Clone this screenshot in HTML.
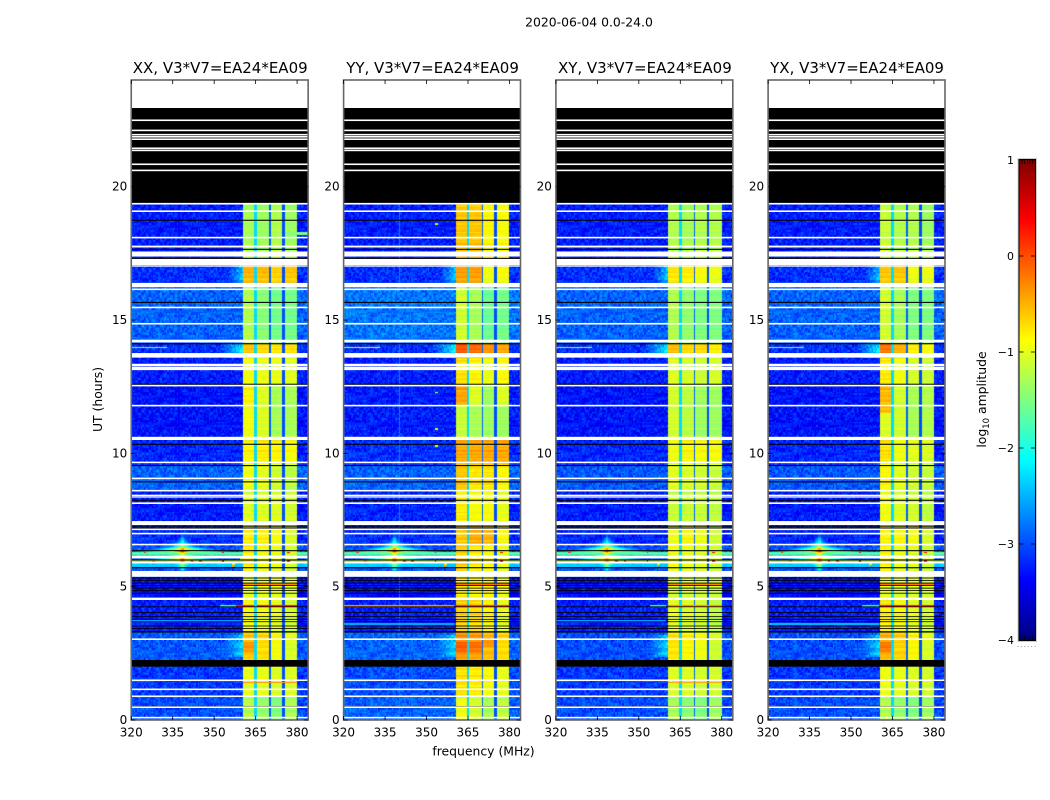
<!DOCTYPE html>
<html lang="en">
<head>
<meta charset="utf-8">
<title>2020-06-04 amplitude waterfall</title>
<style>
html,body{margin:0;padding:0;background:#fff;}
#figure{position:relative;width:1050px;height:800px;overflow:hidden;background:#fff;}
#figure canvas{position:absolute;display:block;}
#overlay{position:absolute;left:0;top:0;}
#overlay text{font-family:"DejaVu Sans","Liberation Sans",sans-serif;fill:#000;}
</style>
</head>
<body>
<div id="figure">
<canvas id="heat-0"></canvas>
<canvas id="heat-1"></canvas>
<canvas id="heat-2"></canvas>
<canvas id="heat-3"></canvas>
<svg id="overlay" width="1050" height="800" viewBox="0 0 1050 800" xmlns="http://www.w3.org/2000/svg">
<text x="589" y="26.5" font-size="12.4" text-anchor="middle">2020-06-04 0.0-24.0</text>
<text x="483.5" y="755.5" font-size="12.4" text-anchor="middle">frequency (MHz)</text>
<text transform="translate(102,399.5) rotate(-90)" font-size="12.4" text-anchor="middle">UT (hours)</text>
<text transform="translate(986,399.5) rotate(-90)" font-size="12.4" text-anchor="middle">log<tspan font-size="8.5" dy="3">10</tspan><tspan dy="-3"> amplitude</tspan></text>
</svg>
</div>
<script>
// ---------- chart data ----------
const panelTitles = ["XX, V3*V7=EA24*EA09","YY, V3*V7=EA24*EA09","XY, V3*V7=EA24*EA09","YX, V3*V7=EA24*EA09"];
const freqTicks = [320,335,350,365,380];
const hourTicks = [0,5,10,15,20];
const colorbarTicks = [1,0,-1,-2,-3,-4];
// sub-band frequency edges (MHz) and the divider channels between them
const subbands = [[360.5,364.7],[365.4,369.8],[370.4,374.7],[375.3,379.9]];
const dividers = [[364.7,365.4],[369.8,370.4],[374.7,375.3]];
const dividerLevels = [-2.3,-2.9,-3.0];
// time blocks (hours, top to bottom)
const timeBlocks = [[17.05,19.4],[16.39,17.05],[14.1,16.39],[13.59,14.1],[12.59,13.59],[10.5,12.59],[9.55,10.5],[8.6,9.55],[7.4,8.6],[6.58,7.4],[5.37,6.58],[4.55,5.37],[3.31,4.55],[2.25,3.31],[0.9,2.25],[0,0.9]];
// log10 amplitude per block: background, then four sub-bands
const levelsXX = [[-3.25,-1.3,-1.35,-1.25,-1.35],[-3.15,-.5,-.55,-.65,-.6],[-2.9,-1.25,-1.45,-1.55,-1.55],[-3.15,-.6,-.7,-.75,-.75],[-3.25,-.95,-1,-1,-1.05],[-3.3,-.95,-1.05,-1.3,-1.3],[-3.2,-.85,-.8,-.85,-.9],[-2.9,-.95,-1,-1.1,-1.2],[-3.25,-1.05,-1.05,-1.05,-1.1],[-3.15,-.8,-.8,-.9,-1.05],[-3,-.8,-.95,-1,-1.1],[-3.35,-1,-1,-1,-1.05],[-3.25,-.9,-.95,-1,-1.1],[-2.95,-.6,-.7,-.9,-1.05],[-3.1,-1,-1,-1.05,-1.05],[-3,-1.25,-1.4,-1.5,-1.3]];
const levelsYY = [[-3.25,-.6,-.6,-.85,-.9],[-3.15,-.4,-.4,-.95,-.9],[-2.8,-1.1,-1.3,-1.6,-1.55],[-3.15,-.05,-.15,-.35,-.45],[-3.25,-.75,-.85,-1,-.9],[-3.25,-.7,-1.05,-1.35,-1.05],[-3.15,-.45,-.45,-.45,-.45],[-2.9,-.6,-.75,-.75,-.85],[-3.2,-.8,-.9,-.9,-1],[-3.15,-.6,-.45,-.5,-.85],[-3,-.65,-.8,-.9,-1],[-3.35,-.8,-.85,-.85,-.95],[-3.25,-.65,-.7,-.85,-1],[-2.9,-.35,-.4,-.55,-.7],[-3,-.75,-.8,-.9,-1],[-2.9,-.95,-1.1,-1.3,-1.2]];
const levelsXY = [[-3.25,-1.25,-1.3,-1.25,-1.25],[-3.15,-.75,-.8,-.9,-.95],[-2.9,-1.25,-1.4,-1.5,-1.5],[-3.15,-.55,-.7,-.7,-.8],[-3.25,-1.05,-1.1,-1.15,-1.1],[-3.3,-1.1,-1.2,-1.35,-1.35],[-3.2,-.95,-.85,-.9,-.9],[-2.95,-1,-1.05,-1.1,-1.15],[-3.25,-1.15,-1.15,-1.15,-1.2],[-3.2,-.95,-.85,-.95,-1.1],[-3,-.95,-1,-1.05,-1.15],[-3.35,-1.1,-1.1,-1.1,-1.15],[-3.25,-1,-1.05,-1.1,-1.2],[-3,-.75,-.85,-.95,-1.1],[-3.1,-1.05,-1.05,-1.1,-1.1],[-3,-1.3,-1.45,-1.5,-1.35]];
const levelsYX = [[-3.25,-1.15,-1.25,-1.25,-1.35],[-3.15,-.6,-.6,-.95,-.95],[-2.9,-1.1,-1.3,-1.5,-1.5],[-3.15,-.2,-.5,-.8,-.9],[-3.25,-.8,-.95,-1.1,-1.15],[-3.3,-.75,-1.1,-1.3,-1.25],[-3.2,-.75,-.95,-1,-1.05],[-2.95,-.85,-1,-1.1,-1.15],[-3.25,-.95,-1.05,-1.1,-1.2],[-3.2,-.85,-.85,-.9,-1.05],[-3,-.85,-1,-1.05,-1.15],[-3.35,-1,-1.05,-1.05,-1.1],[-3.25,-.8,-.9,-1,-1.1],[-3,-.5,-.65,-.85,-1.05],[-3.1,-.95,-1,-1.05,-1.1],[-3,-1.25,-1.4,-1.5,-1.35]];
const panelLevels = [levelsXX,levelsYY,levelsXY,levelsYX];
// in-band patches: [panel, sub-band, hour start, hour end, level]
const bandPatches = [[1,0,11.8,12.59,-.45],[1,0,10.62,11.8,-1.15],[1,1,10.62,11.8,-1.3],[1,3,10.62,11.8,-1.35],[3,0,11.5,12.59,-.55],[3,0,10.62,11.5,-1.05],[0,0,11.7,12.59,-.85],[1,0,2.55,2.95,-.05],[1,1,2.55,2.95,-.15],[0,0,2.55,2.95,-.35],[3,0,2.55,2.95,-.2],[1,2,3.05,2.75,-.35]];
// flagged integrations (zero amplitude, drawn black): [hour start, hour end]
const blackRows = [[19.39,22.95],[18.72,18.76],[17.63,17.67],[17.29,17.33],[15.64,15.68],[14.09,14.13],[12.57,12.61],[10.32,10.36],[9.52,9.56],[8.91,8.95],[8.22,8.26],[7.25,7.29],[7.18,7.22],[6.33,6.37],[5.98,6.02],[5.69,5.73],[5.31,5.34],[5.22,5.25],[5.12,5.15],[5.03,5.06],[4.93,4.96],[4.84,4.87],[4.74,4.77],[4.23,4.26],[4.02,4.05],[3.86,3.89],[3.76,3.79],[3.67,3.7],[3.51,3.54],[3.42,3.45],[3.28,3.33],[2,2.25],[0.49,0.52]];
// missing integrations (no data, white): [hour start, hour end]
const whiteRows = [[22.46,22.52],[22.08,22.14],[21.92,21.98],[21.84,21.9],[21.75,21.81],[21.41,21.47],[21.33,21.39],[20.81,20.87],[20.58,20.64],[19.33,19.39],[19.05,19.11],[18.06,18.12],[17.72,17.79],[17.38,17.57],[17.06,17.29],[17,17.05],[16.23,16.39],[16.12,16.18],[15.44,15.5],[14.83,14.89],[14.16,14.26],[13.59,13.76],[13.27,13.36],[13.12,13.25],[12.51,12.57],[11.76,11.82],[10.5,10.62],[9.63,9.69],[9.03,9.09],[8.57,8.63],[8.4,8.45],[8.34,8.39],[8.1,8.16],[7.31,7.46],[7.12,7.18],[6.96,7.02],[6.55,6.61],[6.06,6.17],[5.87,5.93],[5.37,5.59],[4.5,4.59],[3,3.06],[1.46,1.52],[1.12,1.18],[0.86,0.92],[0.45,0.51],[0.06,0.12]];
// wide-band RFI rows: [hour start, hour end, level]
const rfiRows = [[6.18,6.33,-1.7],[5.92,5.98,-1.25],[5.72,5.87,-2.35]];
// narrow line rows: [panel, hour, freq start, freq end, level]
const lineRows = [[0,4.29,358,364.6,0.25],[0,4.29,365.4,380,0.3],[0,4.29,352,358,-1.9],[1,4.29,320,360,-0.4],[1,4.29,360.5,380,0.15],[2,4.29,354,360,-1.9],[2,4.29,360.5,380,-.3],[3,4.29,354,360,-1.9],[3,4.29,360.5,380,0.3],[1,13.95,320,333,-0.9],[2,13.95,320,333,-1.2],[3,13.95,320,333,-1.4],[0,13.95,320,333,-1.4],[0,18.25,376,384,-1.5],[0,5.1,360.5,380,-.2],[1,5.1,360.5,380,-.1],[2,5.1,360.5,380,-.2],[3,5.1,360.5,380,-.1],[0,1.4,360.5,380,-.35],[2,1.4,360.5,380,-.4],[0,3.72,320,360,-2.5],[3,3.58,320,360,-2.4],[1,3.58,320,360,-2.5],[2,3.72,320,360,-2.5]];
// steady vertical RFI: [panel, freq, level]
const vertRfi = [[1,340.2,-2.75]];
// bright tones: [freq, hour, peak level]
const tones = [[338.5,6.35,1.15],[338.5,6,1.05]];
// single bright channels: [panel or -1 for all, freq, hour, level]
const spurs = [[-1,353.2,6.27,.3],[-1,353.2,5.95,.5],[-1,356.7,5.75,-.4],[-1,357,5.85,-.8],[-1,377,6.27,.4],[-1,377,5.95,.4],[-1,345,5.95,.1],[-1,328,5.95,-.4],[-1,325,6.27,.1],[-1,342,5.95,.1],[1,353.5,18.6,-1],[1,353.5,12.3,-1],[1,353.5,10.9,-1],[1,353.5,10.3,-1],[0,360,6.0,-1.2]];
// emission creeping below the band edge: [freq start, freq end, hour start, hour end, level]
const edgeBumps = [[355,360.5,16.39,17.05,-2.4],[352,360.5,13.59,14.1,-2.2],[354,360.5,2.4,3.2,-2.3]];
// fixed speckle table
const grain = [.21,-.34,.08,.46,-.12,-.51,.29,.03,-.27,.38,-.06,.17,-.42,.55,-.19,.11,-.31,.24,-.08,.41,-.47,.14,.33,-.23,.02,-.38,.49,-.15,.07,-.29,.36,-.1,.19,-.56,.27,.05,-.21];
// ---------- axes ----------
const HOUR_MAX = 24, FREQ_MIN = 320, FREQ_MAX = 384;
const plotTop = 80, plotBottom = 720, plotWidth = 176.9;
const panelLefts = [131.25,343.6,555.9,768.1];
const xScale = (p,f) => panelLefts[p] + (f-FREQ_MIN)/(FREQ_MAX-FREQ_MIN)*plotWidth;
const yScale = h => plotBottom - h/HOUR_MAX*(plotBottom-plotTop);
const cbTop = 160, cbBottom = 640, cbLeft = 1019.5, cbWidth = 15.5;
const cbScale = v => cbBottom - (v+4)/5*(cbBottom-cbTop);
function clip(x){return Math.max(0,Math.min(1,x));}
function jet(v){
  const t = clip((v+4)/5);
  const ch = k => Math.round(255*clip(1.5-Math.abs(4*t-k)));
  return 'rgb('+ch(3)+','+ch(2)+','+ch(1)+')';
}
const svg = document.getElementById('overlay');
const NS = 'http://www.w3.org/2000/svg';
function make(tag,attrs){
  const el = document.createElementNS(NS,tag);
  for(const k in attrs) el.setAttribute(k,attrs[k]);
  svg.appendChild(el);
  return el;
}
// ---------- heat cells ----------
const CHAN = 0.5, ROW = 1/16;
function cellValue(p,f,h,c,r){
  const levels = panelLevels[p];
  let b = timeBlocks.findIndex(t => h>=t[0] && h<t[1]);
  if(b<0) return null;
  const row = levels[b];
  let v = row[0];
  let inBand = false, sub = -1;
  for(let s=0;s<subbands.length;s++){
    if(f>=subbands[s][0] && f<subbands[s][1]){ v = row[s+1]; inBand = true; sub = s; }
  }
  let div = -1;
  for(let d=0;d<dividers.length;d++){
    if(f>=dividers[d][0] && f<dividers[d][1]) div = d;
  }
  if(div>=0) v = dividerLevels[div];
  const idx = (c*131 + r*37 + (c*r)%17) % grain.length;
  if(!inBand && div<0){
    edgeBumps.forEach(e=>{
      if(f>=e[0]&&f<e[1]&&h>=e[2]&&h<e[3]){
        const w=(f-e[0])/(e[1]-e[0]);
        v = v+(e[4]-v)*w;
      }
    });
    v += grain[idx]*0.55;
    rfiRows.forEach(q=>{ if(h>=q[0]&&h<q[1]) v = Math.max(v,q[2]+grain[idx]*0.2); });
  } else if(inBand){
    bandPatches.forEach(q=>{ if(q[0]===p&&q[1]===sub&&h>=Math.min(q[2],q[3])&&h<Math.max(q[2],q[3])) v=q[4]; });
    v += grain[r%grain.length]*0.22 + grain[idx]*0.07;
  }
  vertRfi.forEach(q=>{ if(q[0]===p && Math.abs(f-q[1])<=0.25) v = Math.max(v,q[2]); });
  lineRows.forEach(q=>{ if(q[0]===p && Math.abs(h-q[1])<=ROW*0.6 && f>=q[2] && f<q[3]) v = q[4]; });
  if(f<360.5){
    tones.forEach(q=>{
      const df=Math.abs(f-q[0]), dh=Math.abs(h-q[1]);
      const s=q[2]-0.9*Math.sqrt(df)-4.8*Math.sqrt(dh);
      if(s>v) v=s;
    });
  }
  spurs.forEach(q=>{ if((q[0]<0||q[0]===p) && Math.abs(f-q[1])<=0.25 && Math.abs(h-q[2])<=ROW*0.6) v = Math.max(v,q[3]); });
  return v;
}
panelLefts.forEach((left,p)=>{
  const cv = document.getElementById('heat-'+p);
  const x0 = Math.floor(left), w = Math.ceil(plotWidth)+1, H = plotBottom-plotTop;
  cv.width = w; cv.height = H;
  cv.style.left = x0+'px'; cv.style.top = plotTop+'px';
  const g = cv.getContext('2d');
  const nc = Math.round((FREQ_MAX-FREQ_MIN)/CHAN), nr = Math.round(HOUR_MAX/ROW);
  for(let r=0;r<nr;r++){
    const h0 = r*ROW;
    const yA = Math.round(yScale(h0+ROW))-plotTop, yB = Math.round(yScale(h0))-plotTop;
    for(let c=0;c<nc;c++){
      const f0 = FREQ_MIN+c*CHAN;
      const v = cellValue(p,f0+CHAN/2,h0+ROW/2,c,r);
      if(v===null) continue;
      const xA = Math.round(xScale(p,f0))-x0, xB = Math.round(xScale(p,f0+CHAN))-x0;
      g.fillStyle = jet(v);
      g.fillRect(xA,yA,xB-xA,yB-yA);
    }
  }
});
// ---------- flagged rows, frames, ticks, labels ----------
panelLefts.forEach((left,p)=>{
  blackRows.forEach(q=>{
    const el = make('rect',{x:left,y:yScale(q[1]),width:plotWidth,height:yScale(q[0])-yScale(q[1]),fill:'#000'});
    
    
  });
  whiteRows.forEach(q=>{
    const el = make('rect',{x:left,y:yScale(q[1]),width:plotWidth,height:yScale(q[0])-yScale(q[1]),fill:'#fff'});
    
    
  });
  const frame = make('rect',{x:left,y:plotTop,width:plotWidth,height:plotBottom-plotTop,fill:'none',stroke:'#666','stroke-width':1.6});
  
  
  freqTicks.forEach(f=>{
    const x = xScale(p,f);
    const t1 = make('line',{x1:x,x2:x,y1:plotBottom,y2:plotBottom-4,stroke:'#000','stroke-width':.8});
    
    
    const t2 = make('line',{x1:x,x2:x,y1:plotTop,y2:plotTop+4,stroke:'#000','stroke-width':.8});
    
    
    const lab = make('text',{x:x,y:736.5,'font-size':12,'text-anchor':'middle'});
    lab.textContent = String(f);
    
    
  });
  hourTicks.forEach(h=>{
    const y = yScale(h);
    const t1 = make('line',{x1:left,x2:left+4,y1:y,y2:y,stroke:'#000','stroke-width':.8});
    
    
    const t2 = make('line',{x1:left+plotWidth,x2:left+plotWidth-4,y1:y,y2:y,stroke:'#000','stroke-width':.8});
    
    
    const lab = make('text',{x:left-4,y:y+4,'font-size':12,'text-anchor':'end'});
    lab.textContent = String(h);
    
    
  });
  const title = make('text',{x:left+plotWidth/2+.5,y:73,'font-size':15,'text-anchor':'middle'});
  title.textContent = panelTitles[p];
  
  
});
// ---------- colorbar ----------
for(let y=cbTop;y<cbBottom;y++){
  const v = -4 + (cbBottom-y-0.5)/(cbBottom-cbTop)*5;
  const el = make('rect',{x:cbLeft,y:y,width:cbWidth,height:1.2,fill:jet(v)});
  
  
}
const cbOuter = make('rect',{x:cbLeft-.5,y:cbTop-.5,width:cbWidth+1,height:cbBottom-cbTop+1,fill:'none',stroke:'#000','stroke-width':1});


const cbHalo = make('rect',{x:cbLeft-1.5,y:cbTop-1.5,width:cbWidth+3,height:cbBottom-cbTop+3,fill:'none',stroke:'#ccc','stroke-width':1});


colorbarTicks.forEach(v=>{
  const y = cbScale(v);
  const a = make('line',{x1:cbLeft,x2:cbLeft+4,y1:y,y2:y,stroke:'#000','stroke-width':.8});
  
  
  const b = make('line',{x1:cbLeft+cbWidth,x2:cbLeft+cbWidth-4,y1:y,y2:y,stroke:'#000','stroke-width':.8});
  
  
  const lab = make('text',{x:1014,y:y+4,'font-size':11,'text-anchor':'end'});
  lab.textContent = v<0 ? '\u2212'+Math.abs(v) : String(v);
  
  
});
for(let i=1;i<=5;i++){
  const x = cbLeft+cbWidth*i/6;
  const top = make('line',{x1:x,x2:x,y1:cbTop,y2:cbTop+4,stroke:'#000','stroke-width':.7});
  
  
  const bot = make('line',{x1:x,x2:x,y1:cbBottom,y2:cbBottom-4,stroke:'#000','stroke-width':.7});
  
  
}
for(let i=0;i<6;i++){
  const d = make('rect',{x:1017.5+i*3.4,y:646,width:1,height:1,fill:'#999'});
  
  
}
</script>
</body>
</html>
